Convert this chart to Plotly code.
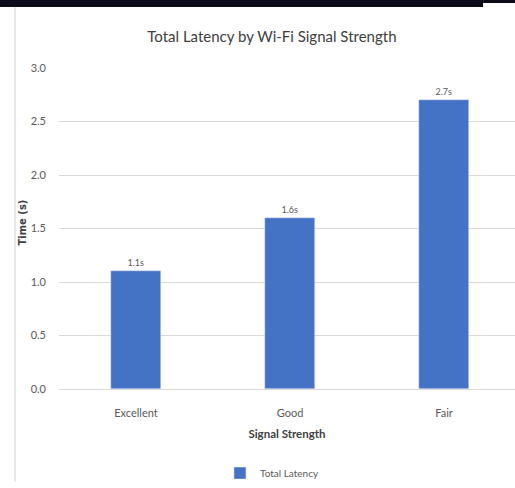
import plotly.graph_objects as go

# Chart data
signal_strength = ["Excellent", "Good", "Fair"]
total_latency = [1.1, 1.6, 2.7]
latency_labels = ["1.1s", "1.6s", "2.7s"]
y_ticks = [0.0, 0.5, 1.0, 1.5, 2.0, 2.5, 3.0]
y_tick_text = ["0.0", "0.5", "1.0", "1.5", "2.0", "2.5", "3.0"]

FONT = "Lato, sans-serif"
BAR_BLUE = "#4472C4"
TEXT_GREY = "#595959"

fig = go.Figure()
fig.add_trace(go.Bar(
    x=signal_strength,
    y=total_latency,
    name="Total Latency",
    marker=dict(color=BAR_BLUE),
    width=0.325,
    text=latency_labels,
    textposition="outside",
    textfont=dict(family=FONT, size=9, color=TEXT_GREY),
    cliponaxis=False,
))

fig.update_layout(
    width=515,
    height=488,
    margin=dict(l=59, r=0, t=68, b=94),
    paper_bgcolor="white",
    plot_bgcolor="white",
    font=dict(family=FONT, color=TEXT_GREY),
    title=dict(
        text="Total Latency by Wi-Fi Signal Strength",
        font=dict(family=FONT, size=15, color="#404040"),
        x=0.528, xanchor="center",
        y=0.925, yanchor="middle",
    ),
    showlegend=True,
    legend=dict(
        orientation="h",
        x=0.353, xanchor="left",
        y=-0.262, yanchor="middle",
        font=dict(family=FONT, size=10, color=TEXT_GREY),
        itemwidth=30,
    ),
    bargap=0.0,
)

fig.update_xaxes(
    range=[-0.5, 2.461],
    showgrid=False,
    showline=True,
    linecolor="#d9d9d9",
    linewidth=1,
    ticks="",
    ticklabelstandoff=14,
    tickfont=dict(family=FONT, size=11, color=TEXT_GREY),
    title=dict(
        text="<b>Signal Strength</b>",
        font=dict(family=FONT, size=11.5, color="#404040"),
        standoff=11,
    ),
)

fig.update_yaxes(
    range=[0, 3.0],
    tickvals=y_ticks,
    ticktext=y_tick_text,
    showgrid=True,
    gridcolor="#d9d9d9",
    gridwidth=1,
    zeroline=False,
    showline=False,
    ticks="",
    ticklabelstandoff=12,
    tickfont=dict(family=FONT, size=11, color=TEXT_GREY),
)

# Vertical axis title placed close to the tick labels
fig.add_annotation(
    text="<b>Time (s)</b>",
    xref="paper", yref="paper",
    x=-36 / 456, y=169 / 326,
    xanchor="center", yanchor="middle",
    textangle=-90, showarrow=False,
    font=dict(family="DejaVu Sans, Verdana, sans-serif", size=10, color="#404040"),
)

# Dark strip across the top and thin frame line on the left
fig.add_shape(type="rect", xref="paper", yref="paper",
              x0=-0.2, x1=0.93, y0=1.0 + 62 / 326, y1=1.3,
              fillcolor="#0b0b1a", line=dict(width=0), layer="above")
fig.add_shape(type="rect", xref="paper", yref="paper",
              x0=0.93, x1=1.0, y0=1.0 + 66 / 326, y1=1.3,
              fillcolor="#0b0b1a", line=dict(width=0), layer="above")
fig.add_shape(type="line", xref="paper", yref="paper",
              x0=-44 / 456, x1=-44 / 456, y0=-94 / 326, y1=1.0 + 62 / 326,
              line=dict(color="#d0d0d0", width=1))

fig.write_html("out.html")
